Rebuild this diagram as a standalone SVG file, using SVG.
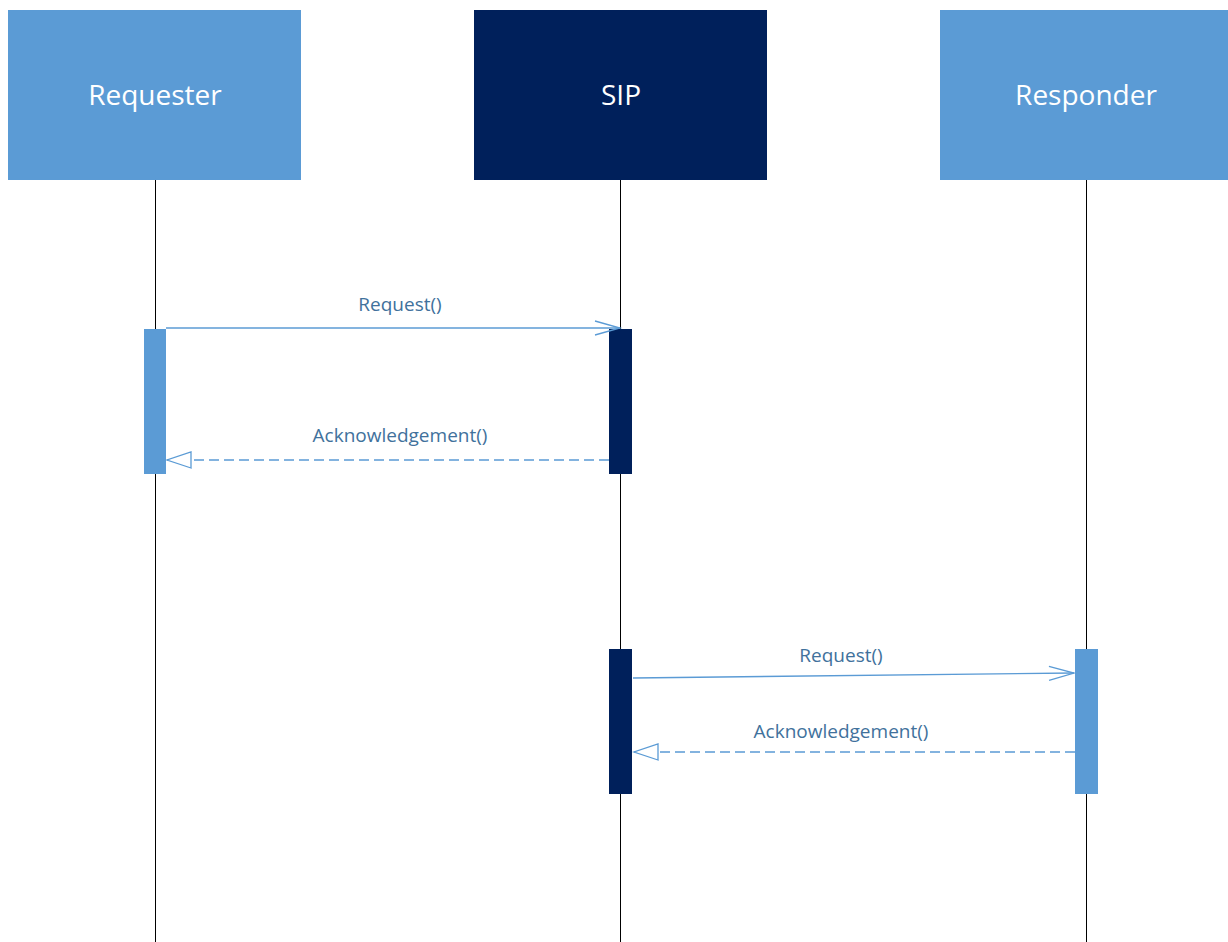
<svg xmlns="http://www.w3.org/2000/svg" width="1228" height="942" viewBox="0 0 1228 942">
<style>
.light{fill:#5B9BD5}
.dark{fill:#00205B}
.head{font-family:"Open Sans","Liberation Sans",sans-serif;font-size:28px;fill:#FFFFFF;text-anchor:middle}
.life{stroke:#000;stroke-width:1;fill:none}
.msg{stroke:#5B9BD5;stroke-width:1.4;fill:none}
.dash{stroke-dasharray:10 5}
.lbl{font-family:"Open Sans","Liberation Sans",sans-serif;font-size:19px;fill:#41719C;text-anchor:middle}
</style>
<defs>
<marker id="open" markerWidth="30" markerHeight="20" refX="27" refY="10" orient="auto" markerUnits="userSpaceOnUse">
<path d="M2,3 L27,10 L2,17" fill="none" stroke="#5B9BD5" stroke-width="1.3"/>
</marker>
<marker id="tri" markerWidth="30" markerHeight="22" refX="26" refY="11" orient="auto" markerUnits="userSpaceOnUse">
<path d="M2,3 L26,11 L2,19 Z" fill="#FFFFFF" stroke="#5B9BD5" stroke-width="1.3"/>
</marker>
</defs>
<rect width="1228" height="942" fill="#FFFFFF"/>
<g id="lifelines">
<line class="life" x1="155.5" y1="180" x2="155.5" y2="942"/>
<line class="life" x1="620.5" y1="180" x2="620.5" y2="942"/>
<line class="life" x1="1086.5" y1="180" x2="1086.5" y2="942"/>
</g>
<g id="requester">
<rect class="light" x="8" y="10" width="293" height="170"/>
<text class="head" x="155" y="105">Requester</text>
</g>
<g id="sip">
<rect class="dark" x="474" y="10" width="293" height="170"/>
<text class="head" x="621" y="105">SIP</text>
</g>
<g id="responder">
<rect class="light" x="940" y="10" width="293" height="170"/>
<text class="head" x="1086" y="105">Responder</text>
</g>
<g id="activations">
<rect class="light" x="144" y="329" width="22" height="145"/>
<rect class="dark" x="609" y="329" width="23" height="145"/>
<rect class="dark" x="609" y="649" width="23" height="145"/>
<rect class="light" x="1075" y="649" width="23" height="145"/>
</g>
<g id="connectors">
<line class="msg" x1="166" y1="328" x2="620" y2="328" marker-end="url(#open)"/>
<line class="msg dash" x1="609" y1="460" x2="167" y2="460" marker-end="url(#tri)"/>
<line class="msg" x1="633" y1="678" x2="1074" y2="673" marker-end="url(#open)"/>
<line class="msg dash" x1="1075" y1="752" x2="634" y2="752" marker-end="url(#tri)"/>
</g>
<g id="labels">
<text class="lbl" x="400" y="311">Request()</text>
<text class="lbl" x="400" y="442">Acknowledgement()</text>
<text class="lbl" x="841" y="662">Request()</text>
<text class="lbl" x="841" y="738">Acknowledgement()</text>
</g>
</svg>
